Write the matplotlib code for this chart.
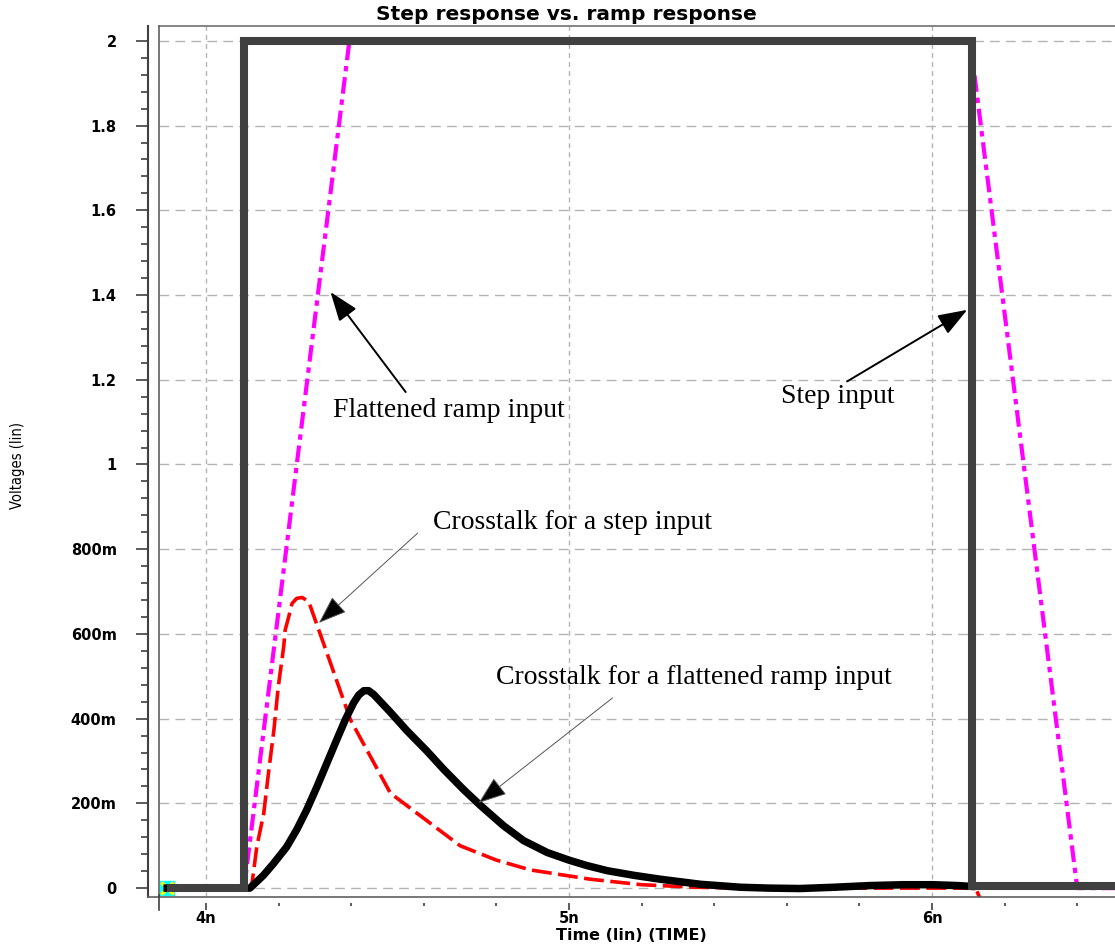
import matplotlib
matplotlib.use("Agg")
import matplotlib.pyplot as plt
from matplotlib.lines import Line2D
from matplotlib.ticker import MultipleLocator

plt.rcParams["font.family"] = "DejaVu Sans"
plt.rcParams["font.weight"] = "bold"
plt.rcParams["xtick.labelsize"] = 10.5
plt.rcParams["ytick.labelsize"] = 10.5

# traces (time in ns, voltage in V)
step_t = [3.893, 4.105, 4.105, 6.110, 6.110, 6.504]
step_v = [0.0, 0.0, 2.0, 2.0, 0.004, 0.004]

ramp_t = [3.893, 4.105, 4.395, 6.105, 6.400, 6.504]
ramp_v = [0.0, 0.0, 2.0, 2.0, 0.0, 0.0]

xt_step_t = [3.893, 4.125, 4.140, 4.159, 4.172, 4.187, 4.199, 4.214, 4.218, 4.228,
             4.237, 4.250, 4.265, 4.283, 4.343, 4.398, 4.508, 4.700, 4.800, 4.893,
             5.058, 5.200, 5.347, 5.500, 6.120, 6.135, 6.150]
xt_step_v = [0.0, 0.0, 0.098, 0.176, 0.271, 0.373, 0.475, 0.570, 0.609, 0.641,
             0.672, 0.684, 0.686, 0.676, 0.531, 0.397, 0.224, 0.100, 0.066, 0.043,
             0.021, 0.008, 0.002, 0.0, 0.0, -0.03, -0.06]

xt_ramp_t = [3.893, 4.121, 4.158, 4.185, 4.222, 4.250, 4.277, 4.305, 4.334, 4.361,
             4.384, 4.407, 4.421, 4.435, 4.448, 4.462, 4.507, 4.553, 4.608, 4.655,
             4.709, 4.756, 4.820, 4.875, 4.940, 5.000, 5.050, 5.106, 5.180, 5.251,
             5.362, 5.473, 5.550, 5.636, 5.730, 5.829, 5.920, 6.003, 6.070, 6.109]
xt_ramp_v = [0.0, 0.0, 0.030, 0.057, 0.097, 0.138, 0.184, 0.238, 0.297, 0.352,
             0.398, 0.438, 0.456, 0.466, 0.466, 0.457, 0.416, 0.372, 0.324, 0.280,
             0.233, 0.195, 0.147, 0.112, 0.084, 0.066, 0.053, 0.041, 0.030, 0.021,
             0.009, 0.002, 0.0, -0.001, 0.002, 0.006, 0.008, 0.008, 0.006, 0.004]

y_major = [0, 0.2, 0.4, 0.6, 0.8, 1.0, 1.2, 1.4, 1.6, 1.8, 2.0]
y_labels = ["0", "200m", "400m", "600m", "800m", "1", "1.2", "1.4", "1.6", "1.8", "2"]
x_major = [4, 5, 6]
x_labels = ["4n", "5n", "6n"]

# (label, text pos, arrow tail, arrow tip, thin line?)
notes = [
    ("Flattened ramp input", (4.351, 1.112), (4.550, 1.171), (4.343, 1.407), False),
    ("Step input", (5.583, 1.145), (5.766, 1.196), (6.097, 1.365), False),
    ("Crosstalk for a step input", (4.624, 0.848), (4.583, 0.838), (4.311, 0.626), True),
    ("Crosstalk for a flattened ramp input", (4.800, 0.482), (5.120, 0.449), (4.751, 0.201), True),
]

W, H = 1115, 944
fig = plt.figure(figsize=(W / 100, H / 100), dpi=100)
ax = fig.add_axes([159 / W, 1 - 897 / H, (W - 159) / W, (897 - 26) / H])
ax.set_xlim(3.8705, 6.504)
ax.set_ylim(-0.021, 2.035)

ax.plot(xt_ramp_t, xt_ramp_v, color="cyan", lw=1.2, ls=":", zorder=2)
ax.plot(xt_step_t, xt_step_v, color="#ff0000", lw=2.6, ls=(0, (5.5, 1.8)), zorder=3)
ax.plot(ramp_t, ramp_v, color="#ff00ff", lw=3.0, ls=(0, (4, 1.4, 1.3, 1.4)), zorder=3.5)
ax.plot(xt_ramp_t, xt_ramp_v, color="black", lw=5.4, solid_joinstyle="round", zorder=4)
ax.plot(step_t, step_v, color="#404040", lw=5.8, solid_joinstyle="miter",
        solid_capstyle="butt", zorder=5)
ax.plot([step_t[0]], [0], marker="s", ms=10, color="cyan", zorder=1.5, clip_on=False)
ax.plot([step_t[0]], [0], marker="x", ms=8, mew=2.5, color="yellow", zorder=1.6, clip_on=False)

# grid
ax.set_axisbelow(True)
ax.xaxis.grid(True, which="major", color="#b4b4b4", lw=1.0, ls=(0, (3.5, 3)))
ax.yaxis.grid(True, which="major", color="#b4b4b4", lw=1.0, ls=(0, (7, 4.5)))

# ticks
ax.set_yticks(y_major)
ax.set_yticklabels(y_labels)
ax.yaxis.set_minor_locator(MultipleLocator(0.04))
ax.set_xticks(x_major)
ax.set_xticklabels(x_labels)
ax.xaxis.set_minor_locator(MultipleLocator(0.2))

ax.tick_params(axis="y", which="major", direction="out", length=8.5, width=1.2,
               color="#404040", pad=14)
ax.tick_params(axis="y", which="minor", direction="out", length=5, width=1.2, color="#404040")
ax.tick_params(axis="x", which="major", direction="out", length=5, width=1.2,
               color="#404040", pad=1)
ax.tick_params(axis="x", which="minor", direction="out", length=2.5, width=1.2, color="#404040")

# spines: detached y axis, box drawn separately
ax.spines["left"].set_position(("outward", 8))
ax.spines["left"].set_color("#404040")
ax.spines["left"].set_linewidth(1.5)
ax.spines["bottom"].set_position(("outward", 4.3))
ax.spines["bottom"].set_visible(False)
ax.spines["right"].set_visible(False)
ax.spines["top"].set_color("#707070")
ax.spines["top"].set_linewidth(1.2)

box_c = "#606060"
fig.add_artist(Line2D([148 / W, 1], [1 - 897 / H] * 2, color=box_c, lw=1.2))
fig.add_artist(Line2D([159 / W] * 2, [1 - 897 / H, 1 - 26 / H], color=box_c, lw=1.2))
fig.add_artist(Line2D([159 / W] * 2, [1 - 910 / H, 1 - 895 / H], color="#404040", lw=1.2))

# annotations
for label, tpos, tail, tip, thin in notes:
    ax.text(tpos[0], tpos[1], label, fontfamily="Liberation Serif", fontweight="normal",
            fontsize=20, va="baseline", ha="left", zorder=6)
    ax.annotate("", xy=tip, xytext=tail,
                arrowprops=dict(arrowstyle="-|>,head_length=0.9,head_width=0.33",
                                mutation_scale=20, shrinkA=0, shrinkB=0,
                                lw=0.7 if thin else 1.4,
                                edgecolor="#555555" if thin else "black",
                                facecolor="black"),
                zorder=6)

fig.text(566 / W, 1 - 14 / H, "Step response vs. ramp response", ha="center", va="center",
         fontsize=14.5)
fig.text(631 / W, 1 - 936 / H, "Time (lin) (TIME)", ha="center", va="center", fontsize=11.5)
fig.text(18 / W, 1 - 465 / H, "Voltages (lin)", ha="center", va="center", rotation=90,
         fontweight="normal", fontstretch="condensed", fontsize=10.5)

fig.savefig("out.png", dpi=100)
